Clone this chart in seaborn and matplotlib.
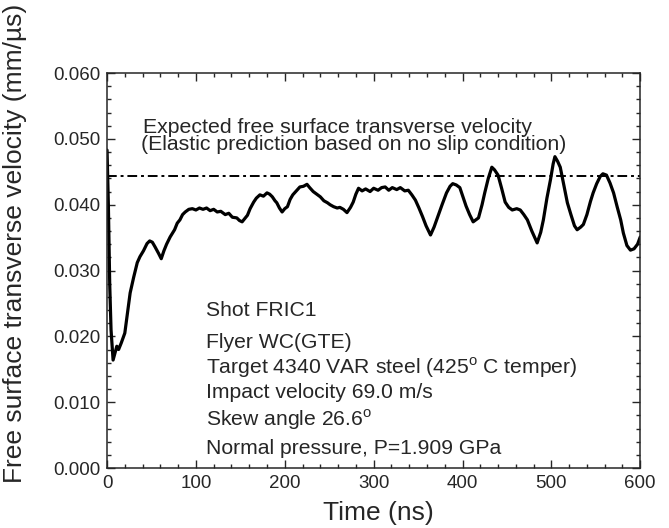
import seaborn as sns
import matplotlib.pyplot as plt
from matplotlib.ticker import MultipleLocator, FormatStrFormatter

# values
time_ns = [0, 1.5, 3, 4.5, 6.8, 9, 11, 13, 16, 20, 23, 26, 30, 34, 37, 41, 45, 48, 51, 54,
           58, 61, 64, 67, 71, 76, 79, 82, 85, 88, 92, 96, 100, 104, 108, 112, 116, 120, 124, 128,
           133, 137, 141, 146, 149, 152, 155, 158, 161, 165, 168, 172, 176, 180, 183, 186, 189, 191, 194, 197,
           200, 203, 206, 209, 213, 217, 221, 225, 228, 232, 236, 240, 244, 248, 251, 255, 259, 262, 266, 270,
           274, 277, 280, 283, 287, 291, 296, 300, 305, 309, 313, 317, 321, 326, 330, 335, 339, 343, 347, 351,
           355, 359, 364, 368, 372, 377, 382, 386, 389, 393, 397, 401, 404, 408, 412, 415, 418, 422, 425, 429,
           433, 436, 440, 444, 448, 452, 456, 461, 465, 469, 473, 478, 484, 488, 491, 495, 499, 502, 504, 507,
           510, 514, 518, 522, 526, 529, 533, 536, 540, 544, 547, 551, 555, 558, 562, 566, 570, 574, 578, 581,
           585, 589, 593, 597, 600]
velocity = [0.0483, 0.0400, 0.0280, 0.0210, 0.0164, 0.0175, 0.0185, 0.0180, 0.0190, 0.0205,
            0.0235, 0.0266, 0.0290, 0.0312, 0.0321, 0.0330, 0.0341, 0.0345, 0.0343, 0.0336,
            0.0326, 0.0318, 0.0330, 0.0340, 0.0351, 0.0362, 0.0372, 0.0377, 0.0385, 0.0389,
            0.0393, 0.0394, 0.0392, 0.0395, 0.0393, 0.0395, 0.0391, 0.0393, 0.0389, 0.0390,
            0.0385, 0.0387, 0.0381, 0.0380, 0.0376, 0.0374, 0.0379, 0.0384, 0.0394, 0.0404,
            0.0410, 0.0415, 0.0413, 0.0418, 0.0416, 0.0412, 0.0406, 0.0403, 0.0395, 0.0389,
            0.0394, 0.0397, 0.0408, 0.0415, 0.0421, 0.0427, 0.0428, 0.0431, 0.0426, 0.0420,
            0.0416, 0.0412, 0.0406, 0.0403, 0.0400, 0.0397, 0.0395, 0.0396, 0.0393, 0.0388,
            0.0396, 0.0404, 0.0416, 0.0425, 0.0421, 0.0424, 0.0420, 0.0425, 0.0422, 0.0426,
            0.0427, 0.0422, 0.0426, 0.0423, 0.0426, 0.0421, 0.0422, 0.0415, 0.0407, 0.0395,
            0.0382, 0.0368, 0.0354, 0.0366, 0.0381, 0.0400, 0.0418, 0.0428, 0.0432, 0.0430,
            0.0426, 0.0410, 0.0398, 0.0385, 0.0374, 0.0377, 0.0380, 0.0400, 0.0418, 0.0440,
            0.0457, 0.0453, 0.0445, 0.0425, 0.0404, 0.0396, 0.0392, 0.0394, 0.0392, 0.0385,
            0.0377, 0.0360, 0.0342, 0.0358, 0.0377, 0.0410, 0.0438, 0.0462, 0.0473, 0.0466,
            0.0457, 0.0430, 0.0403, 0.0385, 0.0368, 0.0362, 0.0366, 0.0370, 0.0385, 0.0405,
            0.0418, 0.0432, 0.0443, 0.0447, 0.0445, 0.0433, 0.0418, 0.0397, 0.0377, 0.0357,
            0.0338, 0.0331, 0.0333, 0.0340, 0.0351]
expected_velocity = 0.0444

legend_lines = ['Expected free surface transverse velocity',
                '(Elastic prediction based on no slip condition)']
shot_info = ['Shot FRIC1',
             'Flyer WC(GTE)',
             'Target 4340 VAR steel (425$^{\\mathrm{o}}$ C temper)',
             'Impact velocity 69.0 m/s',
             'Skew angle 26.6$^{\\mathrm{o}}$',
             'Normal pressure, P=1.909 GPa']

sns.set_style('ticks')
plt.rcParams['font.family'] = ['Liberation Sans', 'DejaVu Sans']
plt.rcParams['mathtext.fontset'] = 'custom'
plt.rcParams['mathtext.rm'] = 'Liberation Sans'

fig = plt.figure(figsize=(6.69, 5.28), dpi=100)
ax = fig.add_axes([0.160, 0.1136, 0.797, 0.748])

sns.lineplot(x=time_ns, y=velocity, color='black', linewidth=2.3, ax=ax)
ax.axhline(expected_velocity, color='black', linewidth=1.4, dashes=(5, 2, 1.5, 2))

ax.set_xlim(0, 600)
ax.set_ylim(0, 0.060)
ax.xaxis.set_major_locator(MultipleLocator(100))
ax.xaxis.set_minor_locator(MultipleLocator(20))
ax.yaxis.set_major_locator(MultipleLocator(0.010))
ax.yaxis.set_minor_locator(MultipleLocator(0.002))
ax.yaxis.set_major_formatter(FormatStrFormatter('%.3f'))
ax.tick_params(which='both', direction='in', top=True, right=True, width=1)
ax.tick_params(which='major', length=6, labelsize=13.5, pad=5)
ax.tick_params(which='minor', length=3)
for s in ax.spines.values():
    s.set_linewidth(1.1)

ax.set_xlabel('Time (ns)', fontsize=19, va='top')
ax.set_ylabel('Free surface transverse velocity (mm/µs)', fontsize=19)
ax.xaxis.set_label_coords(0.508, -0.083)
ax.yaxis.set_label_coords(-0.150, 0.57)

ax.text(40, 0.0518, legend_lines[0], fontsize=15.3, va='center')
ax.text(38, 0.0491, legend_lines[1], fontsize=15.3, va='center')
info_y = [0.0240, 0.0191, 0.0153, 0.0114, 0.0073, 0.0030]
for line, y in zip(shot_info, info_y):
    ax.text(111, y, line, fontsize=15.2, va='center')

fig.savefig('out.png', dpi=100)
